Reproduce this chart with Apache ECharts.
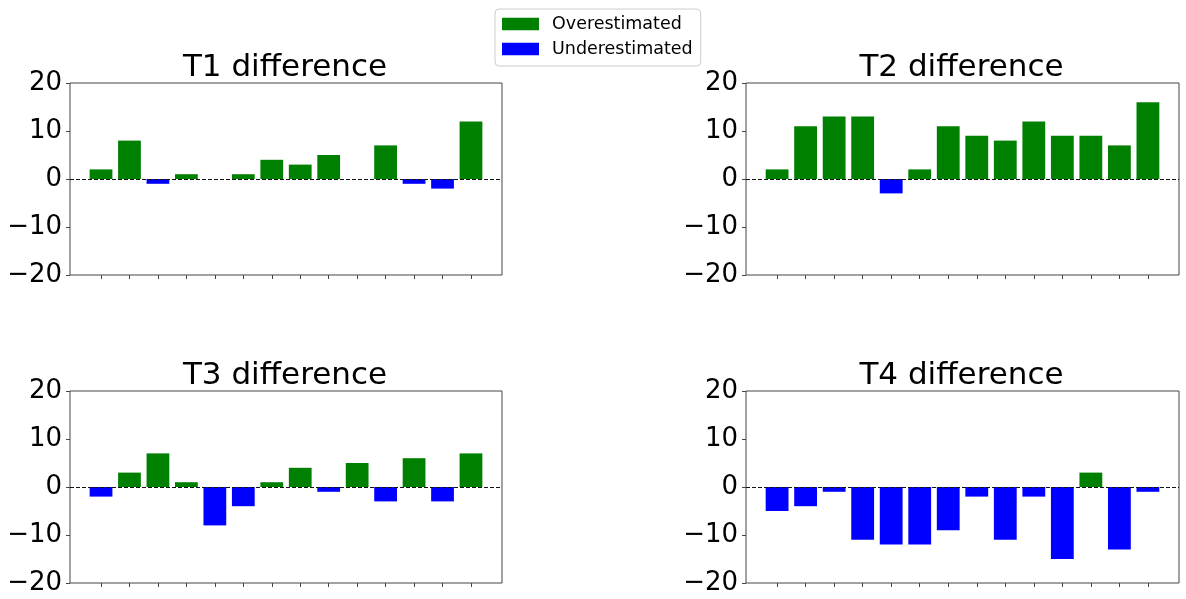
<!DOCTYPE html>
<html>
<head>
<meta charset="utf-8">
<script src="https://cdn.jsdelivr.net/npm/echarts@6/dist/echarts.min.js"></script>
<style>
  html, body { margin: 0; padding: 0; background: #fff; }
  #chart { width: 1186px; height: 599px; }
</style>
</head>
<body>
<div id="chart"></div>
<script>
// Per-position differences for each of the four panels
const positions = [0, 1, 2, 3, 4, 5, 6, 7, 8, 9, 10, 11, 12, 13];
const t1Diff = [2, 8, -1, 1, 0, 1, 4, 3, 5, 0, 7, -1, -2, 12];
const t2Diff = [2, 11, 13, 13, -3, 2, 11, 9, 8, 12, 9, 9, 7, 16];
const t3Diff = [-2, 3, 7, 1, -8, -4, 1, 4, -1, 5, -3, 6, -3, 7];
const t4Diff = [-5, -4, -1, -11, -12, -12, -9, -2, -11, -2, -15, 3, -13, -1];
const panelTitles = ['T1 difference', 'T2 difference', 'T3 difference', 'T4 difference'];
const yTicks = [-20, -10, 0, 10, 20];
const seriesNames = ['Overestimated', 'Underestimated'];

const panels = [t1Diff, t2Diff, t3Diff, t4Diff];
const FONT = 'DejaVu Sans';
const GREEN = '#008000';
const BLUE = '#0000ff';

// Plot boxes (px)
const boxes = [
  { left: 70, top: 83, width: 432, height: 192 },
  { left: 746, top: 83, width: 433, height: 192 },
  { left: 70, top: 391, width: 432, height: 192 },
  { left: 746, top: 391, width: 433, height: 192 }
];

// x range padded like a 5% margin around bars spanning [-0.4, n-0.6]
const n = positions.length;
const span = (n - 1) + 0.8;
const xMin = -0.4 - span * 0.05;
const xMax = (n - 1) + 0.4 + span * 0.05;

const grids = [], xAxes = [], yAxes = [], titles = [], series = [];

panels.forEach((vals, i) => {
  const b = boxes[i];
  const barW = 0.8 * b.width / (xMax - xMin);
  grids.push({
    left: b.left, top: b.top, width: b.width, height: b.height,
    show: true, borderColor: '#444', borderWidth: 1, backgroundColor: 'transparent'
  });
  xAxes.push({
    type: 'value', gridIndex: i, min: xMin, max: xMax, position: 'bottom',
    axisLine: { show: false, onZero: false },
    splitLine: { show: false },
    axisTick: { show: true, customValues: positions, length: 4, inside: false,
                lineStyle: { color: '#444', width: 1 } },
    axisLabel: { show: false }
  });
  yAxes.push({
    type: 'value', gridIndex: i, min: yTicks[0], max: yTicks[yTicks.length - 1], interval: 10,
    position: 'left',
    axisLine: { show: false, onZero: false },
    splitLine: { show: false },
    axisTick: { show: true, length: 4, lineStyle: { color: '#444', width: 1 } },
    axisLabel: {
      show: true, margin: 8, color: '#000', fontFamily: FONT, fontSize: 26,
      formatter: v => (v < 0 ? '\u2212' + (-v) : String(v))
    }
  });
  titles.push({
    text: panelTitles[i],
    left: b.left + b.width / 2 - 1,
    top: b.top - 31,
    padding: 0,
    textAlign: 'center',
    textStyle: { fontFamily: FONT, fontSize: 31, fontWeight: 'normal', color: '#000', lineHeight: 31 }
  });
  series.push({
    name: seriesNames[0], type: 'bar', xAxisIndex: i, yAxisIndex: i,
    barWidth: barW, barGap: '-100%',
    itemStyle: { color: GREEN },
    data: vals.map((v, k) => [positions[k], v]).filter(d => d[1] > 0),
    markLine: {
      silent: true, symbol: 'none', label: { show: false },
      lineStyle: { color: '#111', type: [4, 2], width: 1.2 },
      data: [{ yAxis: 0 }]
    },
    z: 2
  });
  series.push({
    name: seriesNames[1], type: 'bar', xAxisIndex: i, yAxisIndex: i,
    barWidth: barW, barGap: '-100%',
    itemStyle: { color: BLUE },
    data: vals.map((v, k) => [positions[k], v]).filter(d => d[1] < 0),
    z: 2
  });
});

const chart = echarts.init(document.getElementById('chart'), null, { renderer: 'canvas' });
chart.setOption({
  animation: false,
  backgroundColor: '#fff',
  title: titles,
  legend: {
    data: seriesNames.map(name => ({ name, icon: 'rect' })),
    orient: 'vertical',
    left: 495, top: 9,
    padding: [5, 8, 7, 7],
    itemWidth: 37, itemHeight: 12.5, itemGap: 5,
    selectedMode: false,
    borderColor: '#ccc', borderWidth: 1, borderRadius: 4,
    backgroundColor: 'rgba(255,255,255,0.8)',
    textStyle: { fontFamily: FONT, fontSize: 17.5, color: '#000', lineHeight: 20, padding: [0, 0, 0, 8] }
  },
  grid: grids,
  xAxis: xAxes,
  yAxis: yAxes,
  series: series
});
</script>
</body>
</html>
